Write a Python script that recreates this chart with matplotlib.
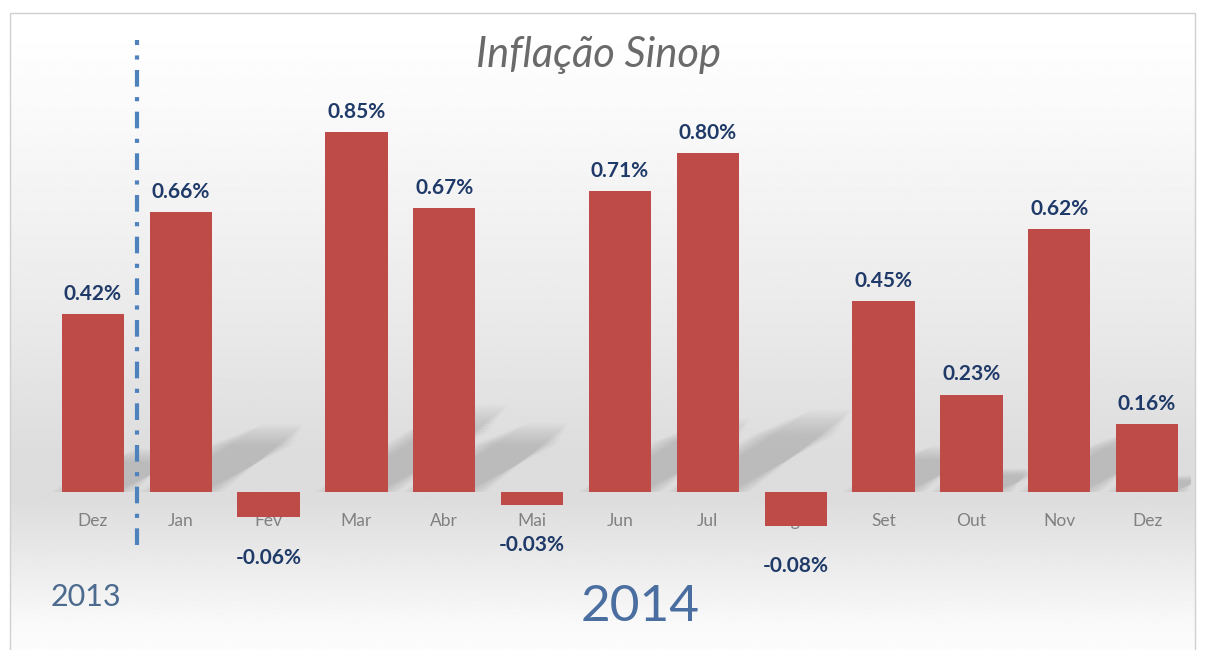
import numpy as np
import matplotlib.pyplot as plt
from matplotlib.patches import Polygon, Rectangle

# dados (% ao mes)
meses = ["Dez", "Jan", "Fev", "Mar", "Abr", "Mai", "Jun", "Jul", "Ago", "Set", "Out", "Nov", "Dez"]
inflacao = [0.42, 0.66, -0.06, 0.85, 0.67, -0.03, 0.71, 0.80, -0.08, 0.45, 0.23, 0.62, 0.16]
titulo = "Inflação Sinop"
anos = ["2013", "2014"]

W, H = 1205, 650
BAR = "#BE4B48"
NAVY = "#1F3A68"
GRAY = "#808080"

plt.rcParams['font.family'] = ['Lato', 'DejaVu Sans']


def px(x, y):
    # pixel (from top-left) -> figure fraction
    return x / W, 1 - y / H


def main():
    fig = plt.figure(figsize=(W / 100, H / 100), dpi=100)

    # fundo com degrade
    bg = fig.add_axes([0, 0, 1, 1])
    bg.set_xlim(0, W)
    bg.set_ylim(H, 0)
    bg.axis("off")
    ys = np.array([13, 80, 200, 330, 450, 495, 560, 620, 650])
    vs = np.array([1.0, 0.985, 0.95, 0.91, 0.865, 0.865, 0.92, 0.975, 0.99])
    grad = np.interp(np.arange(H), ys, vs)
    img = np.repeat(grad[:, None], W, axis=1)
    bg.imshow(img, cmap="gray", vmin=0, vmax=1, extent=[10, 1195, 650, 13],
              aspect="auto", zorder=0)
    bg.add_patch(Rectangle((10, 13), 1185, 640, fill=False, ec="#d0d0d0", lw=1, zorder=1))

    ax = fig.add_axes([49 / W, 10 / H, 1142 / W, 620 / H])
    ax.patch.set_alpha(0)
    x = np.arange(len(meses))
    ax.set_xlim(-0.5, len(meses) - 0.5)
    ax.set_ylim((492 - 640) / 423.5, (492 - 20) / 423.5)
    ax.axis("off")

    # sombras difusas
    w = 0.71
    for xi, v in zip(x, inflacao):
        if v <= 0:
            continue
        for k in range(10):
            s = 0.85 + 0.04 * k
            sh = 0.12 * (k - 4.5) / 4.5
            dx, dy = 1.45 * v * s, 0.2 * v * s
            poly = Polygon([(xi - w / 2 + sh, 0), (xi + w / 2 + sh, 0),
                            (xi + w / 2 + dx - sh, dy), (xi - w / 2 + dx + sh, dy)],
                           closed=True, fc="#7a7a7a", ec="none", alpha=0.035, zorder=1)
            ax.add_patch(poly)

    ax.bar(x, inflacao, width=w, color=BAR, zorder=3)

    for xi, v, m in zip(x, inflacao, meses):
        ax.annotate(m, (xi, 0), xytext=(0, -21), textcoords="offset points",
                    ha="center", va="center", color=GRAY, fontsize=12.5, zorder=2)
        lab = f"{v:.2f}%"
        if v >= 0:
            ax.annotate(lab, (xi, v), xytext=(0, 14.5), textcoords="offset points",
                        ha="center", va="center", color=NAVY, fontsize=15,
                        fontweight="bold", zorder=4)
        else:
            ax.annotate(lab, (xi, v), xytext=(0, -29), textcoords="offset points",
                        ha="center", va="center", color=NAVY, fontsize=15,
                        fontweight="bold", zorder=4)

    # divisao entre os anos
    ax.axvline(0.5, ymin=0.153, ymax=0.968, color="#4F81BD", lw=3,
               linestyle=(0, (4, 2.5, 1, 2.5)), zorder=5)

    fig.text(*px(598, 55), titulo, ha="center", va="center", fontsize=30,
             style="italic", color="#6a6a6a")
    fig.text(*px(86, 597), anos[0], ha="center", va="center", fontsize=22,
             color="#4D6A8F")
    fig.text(*px(640, 607), anos[1], ha="center", va="center", fontsize=37,
             color="#4A6EA0")

    fig.savefig("out.png", dpi=100)


if __name__ == "__main__":
    main()
